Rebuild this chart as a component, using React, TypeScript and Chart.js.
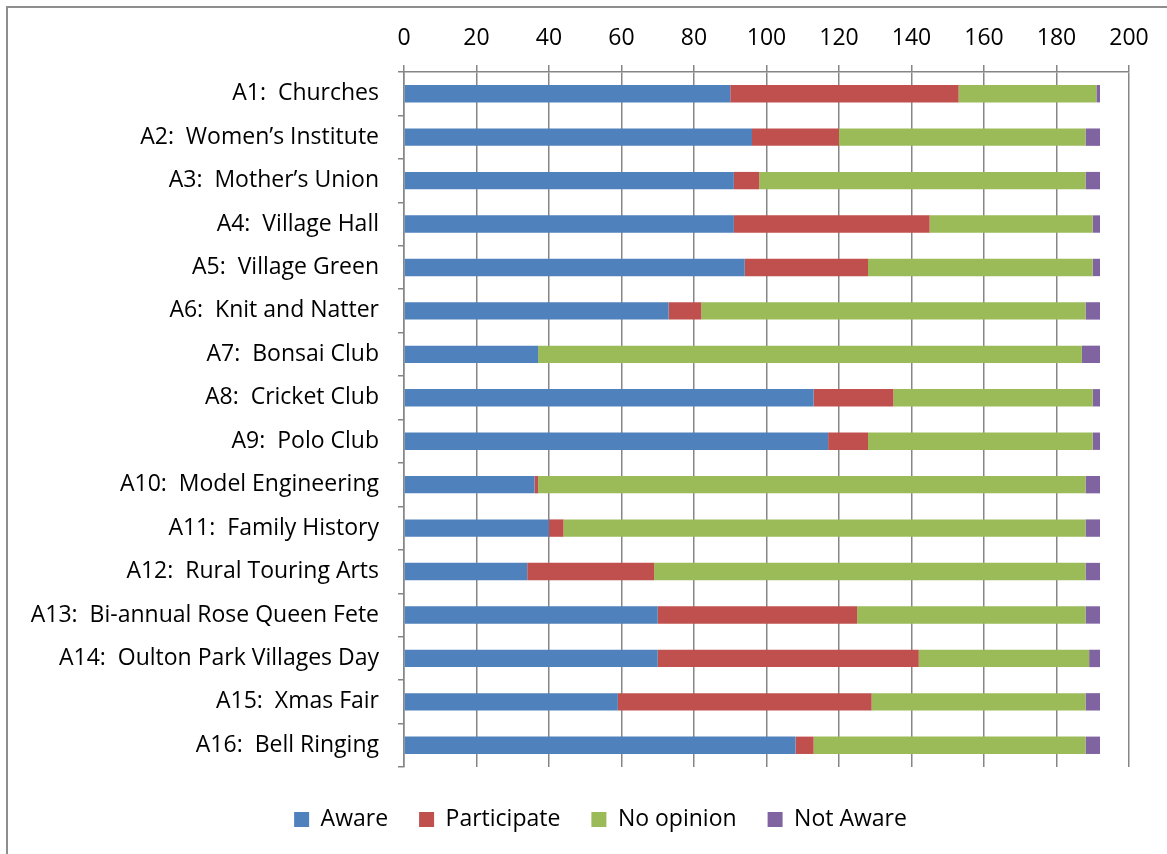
import React, { useEffect, useRef } from "react";
import { Chart, registerables } from "chart.js";

Chart.register(...registerables);

const categories = [
  "A1:  Churches",
  "A2:  Women’s Institute",
  "A3:  Mother’s Union",
  "A4:  Village Hall",
  "A5:  Village Green",
  "A6:  Knit and Natter",
  "A7:  Bonsai Club",
  "A8:  Cricket Club",
  "A9:  Polo Club",
  "A10:  Model Engineering",
  "A11:  Family History",
  "A12:  Rural Touring Arts",
  "A13:  Bi-annual Rose Queen Fete",
  "A14:  Oulton Park Villages Day",
  "A15:  Xmas Fair",
  "A16:  Bell Ringing",
];

const aware = [90, 96, 91, 91, 94, 73, 37, 113, 117, 36, 40, 34, 70, 70, 59, 108];
const participate = [63, 24, 7, 54, 34, 9, 0, 22, 11, 1, 4, 35, 55, 72, 70, 5];
const noOpinion = [38, 68, 90, 45, 62, 106, 150, 55, 62, 151, 144, 119, 63, 47, 59, 75];
const notAware = [1, 4, 4, 2, 2, 4, 5, 2, 2, 4, 4, 4, 4, 3, 4, 4];

const seriesNames = ["Aware", "Participate", "No opinion", "Not Aware"];
const seriesColors = ["#4F81BD", "#C0504D", "#9BBB59", "#8064A2"];

const xMin = 0;
const xMax = 200;
const xStep = 20;

const legendShift = {
  id: "legendShift",
  afterLayout(chart: any) {
    if (chart.legend) {
      chart.legend.left = 72;
    }
  },
};

export default function App() {
  const canvasRef = useRef<HTMLCanvasElement | null>(null);

  useEffect(() => {
    if (!canvasRef.current) return;
    Chart.defaults.font.family = "'Open Sans', sans-serif";
    Chart.defaults.font.size = 23;
    Chart.defaults.color = "#000000";
    const values = [aware, participate, noOpinion, notAware];
    const gridColor = "#868686";
    const chart = new Chart(canvasRef.current, {
      type: "bar",
      data: {
        labels: categories,
        datasets: values.map((v, i) => ({
          label: seriesNames[i],
          data: v,
          backgroundColor: seriesColors[i],
          borderWidth: 0,
          xAxisID: "x",
          barPercentage: 0.4,
          categoryPercentage: 1,
        })),
      },
      plugins: [legendShift],
      options: {
        indexAxis: "y",
        animation: false,
        responsive: false,
        maintainAspectRatio: false,
        layout: { padding: { left: 0, right: 38, top: 0, bottom: 13 } },
        plugins: {
          tooltip: { enabled: false },
          legend: {
            position: "bottom",
            labels: {
              boxWidth: 15,
              boxHeight: 15,
              padding: 31,
              color: "#000000",
              font: { size: 23 },
            },
          },
        },
        scales: {
          x: {
            type: "linear",
            position: "top",
            stacked: true,
            min: xMin,
            max: xMax,
            ticks: { stepSize: xStep, padding: 13, color: "#000000", font: { size: 23 } },
            grid: { color: gridColor, lineWidth: 1.5, tickLength: 7, drawTicks: true },
            border: { color: gridColor, width: 1.5 },
            afterFit: (s: any) => {
              s.height = 72;
            },
          },
          x2: {
            type: "linear",
            position: "bottom",
            display: true,
            grid: { display: false },
            ticks: { display: false },
            border: { display: false },
            afterFit: (s: any) => {
              s.height = 10;
            },
          },
          y: {
            type: "category",
            stacked: true,
            offset: true,
            ticks: { padding: 19, color: "#000000", font: { size: 23 } },
            grid: {
              drawOnChartArea: false,
              drawTicks: true,
              tickLength: 6,
              lineWidth: 1.5,
              color: gridColor,
              offset: true,
            },
            border: { color: gridColor, width: 1.5 },
            afterFit: (s: any) => {
              s.width = 404;
            },
          },
        },
      },
    } as any);
    return () => chart.destroy();
  }, []);

  return (
    <div style={{ position: "absolute", left: 0, top: 0, width: 1167, height: 854, overflow: "hidden", background: "#ffffff" }}>
      <div
        style={{
          position: "absolute",
          left: 6,
          top: 6,
          width: 1200,
          height: 900,
          borderLeft: "2px solid #8e8e8e",
          borderTop: "2px solid #8e8e8e",
        }}
      />
      <canvas
        ref={canvasRef}
        width={1167}
        height={854}
        style={{ position: "absolute", left: 0, top: 0, width: 1167, height: 854 }}
      />
    </div>
  );
}
